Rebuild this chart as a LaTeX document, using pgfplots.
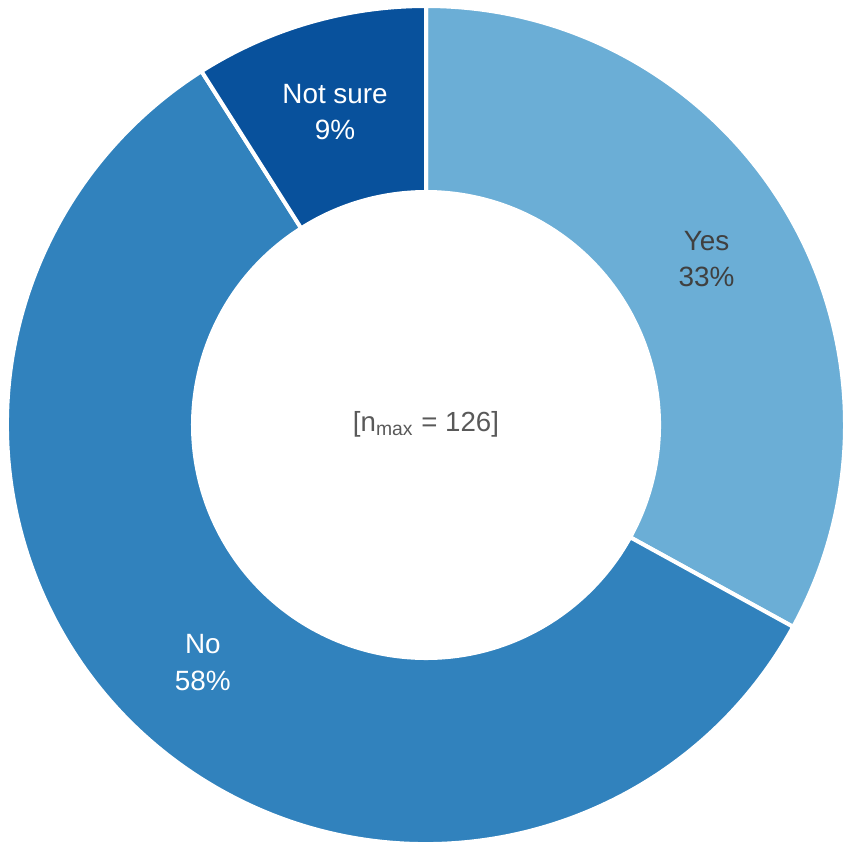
\documentclass[border=0pt]{standalone}
\usepackage{pgfplots}
\pgfplotsset{compat=1.18}
\usepackage{pgfplotstable}
\usepackage{fontspec}
\setmainfont{Liberation Sans}

\definecolor{cYes}{HTML}{6BAED6}
\definecolor{cNo}{HTML}{3182BD}
\definecolor{cNot}{HTML}{08519C}
\definecolor{darktext}{HTML}{404040}
\definecolor{centertext}{HTML}{595959}

% survey shares (percent), clockwise from 12 o'clock
\pgfplotstableread{
label pct
Yes 33
No 58
NotSure 9
}\donutdata
\pgfplotstablegetelem{0}{pct}\of\donutdata \let\pYes\pgfplotsretval
\pgfplotstablegetelem{1}{pct}\of\donutdata \let\pNo\pgfplotsretval
\pgfplotstablegetelem{2}{pct}\of\donutdata \let\pNot\pgfplotsretval

% angles (degrees); the ring starts at 90 and runs clockwise
\pgfmathsetmacro{\aA}{90}
\pgfmathsetmacro{\aB}{\aA-3.6*\pYes}
\pgfmathsetmacro{\aC}{\aB-3.6*\pNo}
\pgfmathsetmacro{\aD}{\aC-3.6*\pNot}
\pgfmathsetmacro{\mYes}{(\aA+\aB)/2}
\pgfmathsetmacro{\mNo}{(\aB+\aC)/2}
\pgfmathsetmacro{\mNot}{(\aC+\aD)/2}

% geometry in axis units (1 unit = 0.015cm)
\def\cx{426}
\def\cy{426}
\def\Ro{419}
\def\Ri{233}
\def\Rm{326}
\def\u{0.015cm}

\newcommand{\sector}[3]{%
  \filldraw[fill=#3, draw=white, line width=4*\u, line join=miter]
    (axis cs:{\cx+\Ro*cos(#1)},{\cy+\Ro*sin(#1)})
    arc[start angle=#1, end angle=#2, radius=\Ro*\u]
    -- (axis cs:{\cx+\Ri*cos(#2)},{\cy+\Ri*sin(#2)})
    arc[start angle=#2, end angle=#1, radius=\Ri*\u]
    -- cycle;}

\tikzset{seglabel/.style={font=\fontsize{11.9pt}{15.5pt}\selectfont, align=center}}

\begin{document}
\begin{tikzpicture}
\begin{axis}[
  x=\u, y=\u,
  xmin=0, xmax=852, ymin=0, ymax=851,
  hide axis, clip=false,
]
\sector{\aA}{\aB}{cYes}
\sector{\aB}{\aC}{cNo}
\sector{\aC}{\aD}{cNot}

\node[seglabel, text=darktext]
  at (axis cs:{\cx+\Rm*cos(\mYes)},{\cy+\Rm*sin(\mYes)}) {Yes\\\pYes\%};
\node[seglabel, text=white]
  at (axis cs:{\cx+\Rm*cos(\mNo)},{\cy+\Rm*sin(\mNo)}) {No\\\pNo\%};
\node[seglabel, text=white]
  at (axis cs:{\cx+\Rm*cos(\mNot)},{\cy+\Rm*sin(\mNot)}) {Not sure\\\pNot\%};

\node[font=\fontsize{11.8pt}{14pt}\selectfont, text=centertext]
  at (axis cs:\cx,427) {[n\textsubscript{max} = 126]};
\end{axis}
\pgfresetboundingbox
\path[use as bounding box] (current axis.south west) rectangle (current axis.north east);
\end{tikzpicture}
\end{document}
